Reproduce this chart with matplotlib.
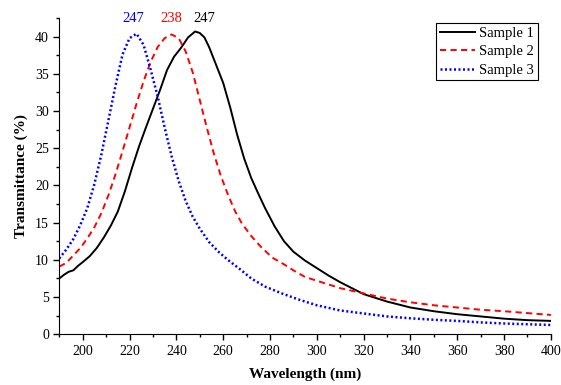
import matplotlib
matplotlib.use("Agg")
import matplotlib.pyplot as plt
from matplotlib.ticker import MultipleLocator

# valeurs
wl_s1 = [190, 192, 194, 196, 198, 200, 203, 206, 209, 212, 215, 218, 221, 224, 227,
         230, 233, 236, 239, 242, 245, 248, 250, 252, 254, 257, 260, 263, 266, 269,
         272, 275, 278, 282, 286, 290, 295, 300, 305, 310, 315, 320, 330, 340, 350,
         360, 370, 380, 390, 400]
tr_s1 = [7.5, 8.0, 8.4, 8.6, 9.2, 9.7, 10.5, 11.6, 13.0, 14.6, 16.5, 19.2, 22.3, 25.2, 27.8,
         30.3, 32.8, 35.5, 37.3, 38.5, 39.9, 40.7, 40.5, 39.9, 38.6, 36.2, 33.8, 30.5, 26.8, 23.6,
         21.0, 18.9, 16.9, 14.5, 12.5, 11.1, 9.9, 8.9, 7.9, 7.0, 6.2, 5.4, 4.4, 3.6, 3.1,
         2.7, 2.4, 2.1, 1.9, 1.8]

wl_s2 = [190, 193, 196, 199, 202, 205, 208, 211, 214, 217, 220, 223, 226, 229, 232,
         235, 238, 241, 244, 247, 250, 253, 256, 259, 262, 265, 268, 272, 276, 281,
         286, 290, 295, 300, 310, 320, 330, 340, 350, 360, 370, 380, 390, 400]
tr_s2 = [9.1, 9.6, 10.6, 11.6, 12.9, 14.4, 16.3, 18.7, 21.5, 24.6, 27.8, 31.0, 34.0, 36.6, 38.6,
         39.8, 40.3, 39.8, 38.0, 35.2, 31.5, 27.8, 24.3, 21.3, 18.8, 16.6, 14.9, 13.2, 11.8, 10.3,
         9.4, 8.6, 7.7, 7.2, 6.2, 5.5, 4.8, 4.3, 3.9, 3.6, 3.3, 3.1, 2.85, 2.6]

wl_s3 = [190, 193, 196, 199, 202, 205, 208, 211, 214, 217, 220, 223, 226, 229, 232,
         235, 238, 241, 244, 247, 250, 254, 258, 262, 267, 272, 278, 285, 292, 300,
         310, 320, 330, 340, 350, 360, 370, 380, 390, 400]
tr_s3 = [10.2, 11.4, 12.8, 14.7, 17.0, 20.2, 24.2, 28.8, 33.4, 37.6, 39.8, 40.4, 38.9, 35.6, 32.0,
         27.8, 23.9, 20.6, 17.9, 15.8, 14.2, 12.4, 11.1, 10.0, 8.8, 7.5, 6.4, 5.5, 4.7, 3.9,
         3.2, 2.8, 2.4, 2.15, 1.95, 1.8, 1.6, 1.45, 1.35, 1.25]

peak_labels = [("247", 221.5, "blue"), ("238", 238.0, "red"), ("247", 252.0, "black")]

plt.rcParams.update({'font.family': 'Liberation Serif', 'font.size': 10})

fig = plt.figure(figsize=(5.61, 3.85), dpi=100)
ax = fig.add_axes([0.1057, 0.1317, 0.8763, 0.8213])

ax.plot(wl_s1, tr_s1, color='black', lw=1.4, ls='-', label='Sample 1')
ax.plot(wl_s2, tr_s2, color='red', lw=1.4, ls=(0, (3.2, 2.2)), label='Sample 2')
ax.plot(wl_s3, tr_s3, color='blue', lw=1.8, ls=(0, (0.8, 1.0)), label='Sample 3')

for txt, xp, col in peak_labels:
    ax.text(xp, 42.45, txt, color=col, ha='center', va='center', fontsize=10.5, clip_on=False)

ax.set_xlim(190, 400)
ax.set_ylim(0, 42.5)
ax.xaxis.set_major_locator(MultipleLocator(20))
ax.xaxis.set_minor_locator(MultipleLocator(10))
ax.yaxis.set_major_locator(MultipleLocator(5))
ax.yaxis.set_minor_locator(MultipleLocator(2.5))
ax.tick_params(which='major', direction='out', length=4, width=1, labelsize=10)
ax.tick_params(which='minor', direction='out', length=2.5, width=1)
ax.spines['top'].set_visible(False)
ax.spines['right'].set_visible(False)

ax.set_xlabel("Wavelength (nm)", fontweight='bold', fontsize=11, labelpad=7)
ax.set_ylabel("Transmittance (%)", fontweight='bold', fontsize=11, labelpad=5)

leg = ax.legend(loc='upper right', bbox_to_anchor=(0.9735, 0.984), fontsize=10.5,
                frameon=True, fancybox=False, edgecolor='black', framealpha=1,
                handlelength=2.4, borderpad=0.25, labelspacing=0.35, handletextpad=0.3,
                borderaxespad=0)
leg.get_frame().set_linewidth(0.8)

fig.savefig("out.png", dpi=100)
